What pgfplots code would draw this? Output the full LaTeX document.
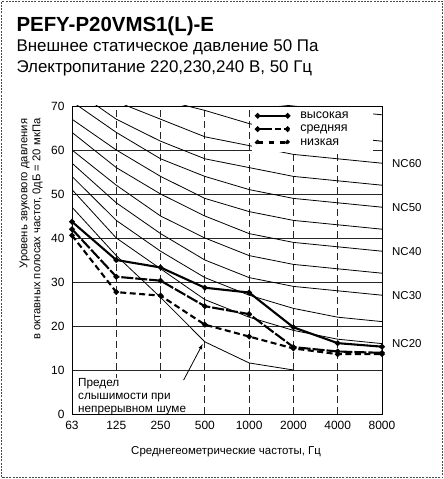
\documentclass[border=0pt]{standalone}
\usepackage{pgfplots}
\pgfplotsset{compat=1.18}
\usepackage{pgfplotstable}
\usepackage{fontspec}
\setmainfont{Liberation Sans}

% NC curves, octave bands 63 ... 8000 Hz at x = 0 ... 7
\pgfplotstableread{
x  nc20 nc25 nc30 nc35 nc40 nc45 nc50 nc55 nc60 nc65 nc70
0  51   54   57   60   64   67   71   74   77   80   83
1  40   44   48   52   56   60   64   67   71   75   79
2  33   37   41   45   50   54   58   62   67   71.5 75
3  26   31   35   40   45   49   54   58   63   69   72
4  22   27   31   36   41   46   51   56   61   66   71
5  19   24   29   34   39   44   49   54   59   64   70
6  17   22   28   33   38   43   48   53   58   63   69
7  16   21   27   32   37   42   47   52   57   62   68
}\nctable

% threshold of hearing for continuous noise
\pgfplotstableread{
x  lim
0  47
1  36
2  26.5
3  16.4
4  11.6
5  10
}\limtable

\pgfplotstableread{
x  hi    mid   lo
0  43.7  42.0  40.6
1  35.0  31.2  27.7
2  33.3  30.3  26.9
3  28.7  24.5  20.3
4  27.6  22.7  17.6
5  19.7  15.2  14.9
6  16.1  14.2  13.6
7  15.3  13.9  13.6
}\fantable

\begin{document}
\begin{tikzpicture}[x=1bp,y=1bp]
\useasboundingbox (0,0) rectangle (444,479);
\draw[black!70, line width=0.8bp, dash pattern=on 2bp off 1.2bp] (1.5,1.5) rectangle (442.5,477.5);

\node[anchor=base west, font=\bfseries\fontsize{20.5}{22}\selectfont] at (13,447) {PEFY-P20VMS1(L)-E};
\node[anchor=base west, font=\fontsize{17}{19}\selectfont] at (13,427.5) {Внешнее статическое давление 50 Па};
\node[anchor=base west, font=\fontsize{17}{19}\selectfont] at (13,406.5) {Электропитание 220,230,240 В, 50 Гц};

\begin{axis}[
    at={(72bp,65bp)}, anchor=south west,
    scale only axis,
    width=310bp, height=308bp,
    xmin=0, xmax=7, ymin=0, ymax=70,
    xtick={0,...,7},
    xticklabels={63,125,250,500,1000,2000,4000,8000},
    ytick={0,10,...,70},
    major tick length=0pt,
    /pgf/number format/assume math mode=true,
    tick label style={font=\fontsize{12}{13}\selectfont},
    xticklabel style={yshift=-3.5bp},
    yticklabel style={xshift=-4bp},
    axis line style={black, line width=0.9bp},
    xmajorgrids, ymajorgrids,
    major x grid style={black!85, line width=0.9bp, dash pattern=on 7bp off 4bp},
    major y grid style={black!85, line width=0.9bp},
    xlabel={Среднегеометрические частоты, Гц},
    xlabel style={at={(axis description cs:0.497,0)}, anchor=base, yshift=-40bp,
                  font=\fontsize{11.5}{13}\selectfont},
    ylabel={Уровень звукового давления\\в октавных полосах частот, 0дБ = 20 мкПа},
    ylabel style={at={(axis description cs:-0.132,0.60)}, anchor=center, align=right,
                  font=\fontsize{11.3}{13}\selectfont},
    legend style={at={(rel axis cs:0.58,1)}, anchor=north west, fill=white, draw=none,
                  font=\fontsize{12.5}{13}\selectfont, row sep=1.2bp,
                  inner xsep=3bp, inner ysep=3.5bp,
                  /tikz/every odd column/.append style={column sep=8bp},
                  /tikz/every even column/.append style={text width=68bp}},
    legend cell align=left,
    clip=true,
]

% NC curves
\pgfplotsinvokeforeach{nc20,nc25,nc30,nc35,nc40,nc45,nc50,nc55,nc60,nc65,nc70}{
  \addplot[black, line width=0.8bp, forget plot] table[x=x, y=#1] {\nctable};
}
\addplot[black, line width=0.8bp, forget plot] table[x=x, y=lim] {\limtable};

\addplot[black, line width=2.1bp, mark=*, mark size=1.6bp,
  legend image code/.code={
    \draw[black, line width=2.1bp] (0bp,0bp) -- (30bp,0bp);
    \fill[black] (0bp,0bp) circle (1.6bp);
    \fill[black] (30bp,0bp) circle (1.6bp);}]
  table[x=x, y=hi] {\fantable};
\addlegendentry{высокая}

\addplot[black, line width=2.1bp, mark=*, mark size=1.6bp, dash pattern=on 12bp off 2bp,
  mark options={solid},
  legend image code/.code={
    \draw[black, line width=2.1bp, dash pattern=on 14bp off 3bp on 6bp off 3bp] (0bp,0bp) -- (30bp,0bp);
    \fill[black] (0bp,0bp) circle (1.6bp);
    \fill[black] (30bp,0bp) circle (1.6bp);}]
  table[x=x, y=mid] {\fantable};
\addlegendentry{средняя}

\addplot[black, line width=2.1bp, mark=*, mark size=1.6bp, dash pattern=on 6bp off 3.5bp,
  mark options={solid},
  legend image code/.code={
    \draw[black, line width=2.1bp, dash pattern=on 5bp off 6bp] (0bp,0bp) -- (30bp,0bp);
    \fill[black] (0bp,0bp) circle (1.6bp);
    \fill[black] (30bp,0bp) circle (1.6bp);}]
  table[x=x, y=lo] {\fantable};
\addlegendentry{низкая}

\node[anchor=south west, fill=white, inner xsep=5bp, inner ysep=0bp, align=left,
      font=\fontsize{11.8}{13.2}\selectfont, xshift=1bp, yshift=-1.2bp]
  at (rel axis cs:0,0) {Предел\\слышимости при\\непрерывном шуме};
\draw[black, line width=0.9bp] (rel axis cs:0,0) -- (rel axis cs:1,0);
\draw[black, line width=0.8bp, -latex] (axis cs:2.52,7.7) -- (axis cs:2.95,15.9);

\end{axis}

% frame lines again over the legend's white box
\draw[black, line width=0.9bp] (72,373) -- (382,373) -- (382,65);

\begin{scope}[shift={(72,65)}]
  \foreach \v/\t in {57/NC60,47/NC50,37/NC40,27/NC30,16/NC20}{
    \node[anchor=west, font=\fontsize{11.5}{12}\selectfont, inner sep=0pt] at (320,\v*4.4) {\t};
  }
\end{scope}
\end{tikzpicture}
\end{document}
